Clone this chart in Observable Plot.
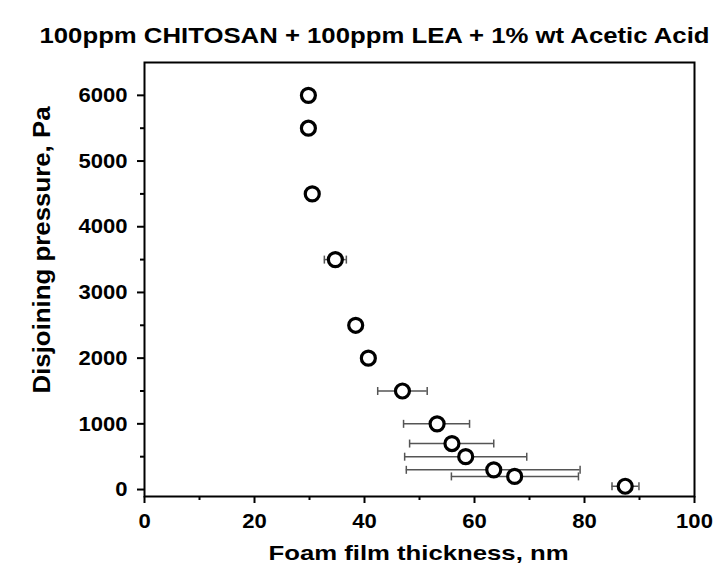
<!DOCTYPE html>
<html><head><meta charset="utf-8">
<script src="https://cdn.jsdelivr.net/npm/d3@7"></script>
<script src="https://cdn.jsdelivr.net/npm/@observablehq/plot@0.6"></script>
<style>body{margin:0;background:#fff;} svg{display:block;}</style>
</head><body><div id="chart"></div>
<script>
const title = "100ppm CHITOSAN + 100ppm LEA + 1% wt Acetic Acid";
const xLabel = "Foam film thickness, nm";
const yLabel = "Disjoining pressure, Pa";
const thickness = [29.8, 29.8, 30.5, 34.7, 38.4, 40.7, 46.9, 53.2, 55.9, 58.4, 63.5, 67.3, 87.4];
const pressure  = [6000, 5500, 4500, 3500, 2500, 2000, 1500, 1000, 700, 500, 300, 200, 50];
const errLow    = [null, null, null, 32.7, null, null, 42.4, 47.1, 48.2, 47.3, 47.6, 55.8, 85.0];
const errHigh   = [null, null, null, 36.7, null, null, 51.4, 59.1, 63.5, 69.5, 79.2, 78.9, 89.9];
const xTicks = [0, 20, 40, 60, 80, 100];
const xMinorTicks = [10, 30, 50, 70, 90];
const yTicks = [0, 1000, 2000, 3000, 4000, 5000, 6000];
const yMinorTicks = [500, 1500, 2500, 3500, 4500, 5500];

const data = thickness.map((t, i) => ({t, p: pressure[i], lo: errLow[i], hi: errHigh[i]}));
const errData = data.filter(d => d.lo != null);
const capSymbol = {draw(ctx) { ctx.moveTo(0, -4); ctx.lineTo(0, 4); }};
const font = "'Liberation Sans', Arial, sans-serif";

const chart = Plot.plot({
  width: 723, height: 567,
  marginLeft: 144, marginRight: 29, marginTop: 62, marginBottom: 71,
  style: {fontFamily: font, fontWeight: "bold", background: "#fff", color: "#000"},
  x: {domain: [0, 100]},
  y: {domain: [-106, 6500]},
  marks: [
    Plot.axisX({ticks: xMinorTicks, tickSize: 4, strokeWidth: 2, text: null, label: null}),
    Plot.axisX({ticks: xTicks, tickSize: 7, strokeWidth: 2, tickPadding: 10, fontSize: 21, tickFormat: d3.format("d"), label: null, className: "xt"}),
    Plot.axisY({ticks: yMinorTicks, tickSize: 4, strokeWidth: 2, text: null, label: null}),
    Plot.axisY({ticks: yTicks, tickSize: 7, strokeWidth: 2, tickPadding: 10, fontSize: 21, tickFormat: d3.format("d"), label: null, className: "yt"}),
    Plot.ruleY(errData, {y: "p", x1: "lo", x2: "hi", stroke: "#555", strokeWidth: 1.5}),
    Plot.dot(errData, {x: "lo", y: "p", symbol: capSymbol, stroke: "#555", strokeWidth: 1.5, fill: "none"}),
    Plot.dot(errData, {x: "hi", y: "p", symbol: capSymbol, stroke: "#555", strokeWidth: 1.5, fill: "none"}),
    Plot.dot(data, {x: "t", y: "p", r: 7, stroke: "black", strokeWidth: 3.2, fill: "white"}),
    Plot.frame({stroke: "black", strokeWidth: 2}),
    Plot.text([title], {text: d => d, frameAnchor: "top", lineAnchor: "bottom", dx: -45, dy: -20, fontSize: 22, className: "ttl"}),
    Plot.text([xLabel], {text: d => d, frameAnchor: "bottom", lineAnchor: "bottom", dx: -1, dy: 63, fontSize: 21, className: "xl"}),
    Plot.text([yLabel], {text: d => d, frameAnchor: "left", lineAnchor: "top", rotate: -90, fontSize: 24, className: "yl"})
  ]
});
document.getElementById("chart").append(chart);

function setLen(selector, fn) {
  chart.querySelectorAll(selector).forEach(el => {
    const L = fn(el.getComputedTextLength());
    el.setAttribute("textLength", L);
    el.setAttribute("lengthAdjust", "spacingAndGlyphs");
  });
}
setLen(".ttl text", () => 670);
setLen(".xl text", () => 300);
setLen(".xt text", l => l * 1.05);
setLen(".yt text", l => l * 1.05);

// place the rotated y label explicitly
chart.querySelectorAll(".yl").forEach(g => g.removeAttribute("transform"));
chart.querySelectorAll(".yl text").forEach(el => {
  el.setAttribute("transform", "translate(33,250) rotate(-90)");
  el.setAttribute("text-anchor", "middle");
  el.setAttribute("x", 0);
  el.setAttribute("y", "0.71em");
  el.removeAttribute("dx");
  el.removeAttribute("dy");
});
setLen(".yl text", () => 287);
</script>
</body></html>
